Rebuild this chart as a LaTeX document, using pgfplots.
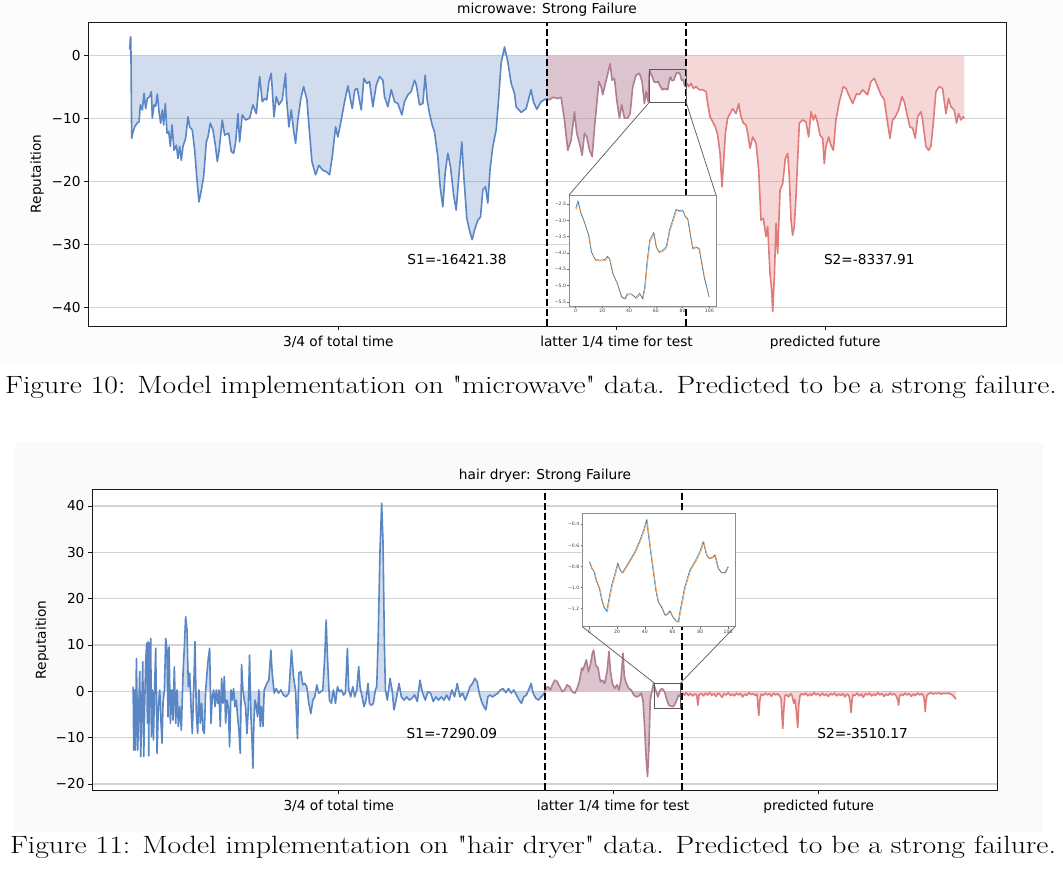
\documentclass[border=0pt]{standalone}
\usepackage{pgfplots}
\pgfplotsset{compat=1.18}
\usepackage{pgfplotstable}
\usepackage{fontspec}
\usepackage{graphicx}
\newfontfamily\djv{DejaVu Sans}
\def\sq{\XeTeXglyph\XeTeXglyphindex "quotedbl"\relax}
\definecolor{bline}{HTML}{5A86C5}
\definecolor{pline}{HTML}{B07D93}
\definecolor{rline}{HTML}{E07B7B}
\definecolor{gridc}{HTML}{D3D3D3}
\definecolor{insblue}{HTML}{1F77B4}
\definecolor{insorange}{HTML}{FF7F0E}
\definecolor{figbg}{HTML}{FAFAFA}
\definecolor{figbgtop}{HTML}{FCFCFC}

\pgfplotstableread{
x y
0 1.0
1 3.0
1.6 2.8
2.8 -13.1
4.7 -12.1
7.1 -11.3
10.5 -10.7
13.4 -10.5
15.3 -7.8
18.2 -8.6
20.5 -6.0
22.9 -8.4
25.3 -6.8
28.7 -6.5
31.1 -5.7
32.5 -9.9
34.9 -7.8
37.3 -8.0
39.7 -6.1
42.1 -8.9
44.5 -10.7
46.9 -8.6
48.8 -11.0
51.2 -7.6
53.6 -12.3
56.0 -12.0
58.4 -14.4
60.8 -11.0
63.7 -15.0
67.0 -14.2
69.4 -16.3
71.8 -14.4
74.2 -16.6
76.6 -14.4
80.4 -13.1
83.8 -9.7
86.2 -11.3
90.0 -11.8
93.4 -15.0
96.7 -19.7
99.6 -23.2
103.0 -21.3
106.3 -19.2
110.1 -13.7
112.5 -12.9
115.9 -10.7
119.7 -11.8
123.1 -14.2
126.0 -16.8
128.3 -15.2
133.1 -10.2
136.5 -12.6
142.2 -12.3
146.0 -15.2
149.4 -15.5
152.3 -13.7
155.6 -9.2
158.0 -13.7
161.8 -9.4
166.6 -10.2
172.4 -9.9
177.2 -7.8
182.0 -9.2
186.8 -3.3
190.6 -7.3
194 -6.8
197 -7.0
200.2 -4.1
203.5 -2.8
207.4 -9.7
210.7 -6.5
214.5 -7.8
219.3 -7.0
224.1 -2.8
225.1 -6.2
228.9 -11.3
232.3 -8.6
235.6 -11.8
238.5 -13.9
241.8 -10.2
245.7 -7.0
250.0 -4.9
254.8 -7.0
258.6 -12.3
262.0 -16.8
267.2 -18.9
272.0 -17.4
277.8 -18.2
282.6 -18.4
287.4 -18.9
291.2 -16.0
296.0 -11.3
299.3 -12.9
304.1 -10.2
308.9 -7.3
313.7 -4.8
319.9 -8.4
323.7 -5.4
327.1 -5.2
332.9 -8.6
336.7 -3.6
341.0 -4.4
344.8 -4.1
349.6 -8.1
354.4 -4.7
359.2 -3.3
364.0 -3.9
366.4 -6.5
371.2 -8.1
376.0 -5.4
380.8 -7.3
385.6 -7.6
391.3 -9.4
395.1 -7.3
399.9 -6.2
404.7 -5.7
409.5 -3.9
412 -4.6
416.7 -7.8
421.5 -7.6
424.8 -3.1
427.7 -7.0
431.1 -9.2
434.9 -11.0
438.2 -12.1
443.0 -16.0
446.4 -20.8
450.2 -24.0
453.5 -18.7
457.4 -15.5
461.2 -17.6
465.5 -21.9
469.4 -24.5
473.2 -19.2
477.5 -13.7
480.4 -19.2
484.7 -25.8
488.5 -27.7
492.4 -29.2
495.7 -27.7
500.5 -26.1
504.4 -25.6
507.7 -21.3
511.5 -20.8
514.9 -23.4
518.2 -17.9
522.1 -14.4
526.9 -11.8
530.7 -6.5
534.0 -1.2
538.9 1.4
543.7 -1.0
548.5 -4.4
553.3 -6.0
555.6 -8.1
562.8 -9.0
570.0 -8.4
577.1 -5.4
580.5 -7.3
585.3 -8.5
591.5 -7.3
597.7 -6.9
600 -6.8
}\topA

\pgfplotstableread{
x y
600 -6.8
603.6 -7.0
608.4 -6.6
615.5 -6.8
620.3 -6.6
625.1 -10.2
629.9 -15.0
634.7 -13.4
639.5 -8.9
642.8 -12.3
646.7 -13.9
650.5 -15.8
653.9 -12.3
657.2 -12.9
661.1 -15.0
664.9 -16.0
668.2 -11.5
671.6 -7.6
674.5 -4.1
677.8 -4.9
680.2 -6.2
684.0 -4.4
687.4 -2.8
690.7 -1.3
693.6 -3.9
697.0 -3.6
700.3 -7.0
704.2 -9.9
707.5 -7.8
711.3 -9.9
716.1 -9.9
719.5 -9.2
723.3 -4.9
728.1 -3.1
732.9 -2.8
736.7 -4.1
740.1 -7.6
742.5 -5.7
745.5 -7.3
747.2 -2.6
747.9 -2.4
749.0 -2.75
750.1 -3.0
751.8 -3.45
753.1 -3.96
754.7 -4.2
756.7 -4.22
758.7 -4.2
759.6 -4.1
760.4 -4.17
761.7 -4.63
763.5 -4.94
765.2 -5.35
766.5 -5.4
767.4 -5.26
769.1 -5.26
770.8 -5.37
772.4 -5.24
773.4 -5.4
774.3 -5.04
775.2 -4.27
776.3 -3.61
777.9 -3.38
778.9 -3.81
780.0 -3.96
781.3 -3.93
782.9 -3.81
784.2 -3.3
785.7 -2.91
786.8 -2.66
788.1 -2.7
789.4 -2.68
790.5 -2.89
791.4 -2.94
793.3 -3.86
794.6 -3.81
795.9 -3.86
797.9 -4.73
800 -5.0
}\topB

\pgfplotstableread{
x y
800 -5.0
801.5 -4.4
803.8 -4.9
807.1 -4.4
810.5 -5.2
814.3 -4.9
819.1 -5.4
823.9 -5.4
828.7 -5.7
831.1 -7.6
834.4 -9.7
838.3 -10.5
842.1 -11.3
845.5 -12.6
848.8 -15.5
851.7 -20.8
854.1 -16.6
856.5 -12.3
859.8 -9.9
863.2 -9.2
867.0 -8.4
871.8 -9.2
875.6 -7.6
879.0 -9.7
882.3 -10.7
886.2 -11.0
888.6 -12.3
891.9 -14.7
895.8 -12.9
900.6 -13.9
904.4 -18.1
907.7 -26.1
911.1 -25.8
914.9 -28.7
917.3 -27.1
920.7 -34.6
923.1 -37.2
924.5 -40.6
926.9 -35.1
929.3 -26.6
931.7 -31.4
935.1 -21.3
938.9 -20.3
942.7 -16.3
946.1 -15.5
948.4 -19.2
950.9 -26.1
953.2 -28.5
955.6 -27.1
958.0 -22.4
960.4 -16.6
962.8 -10.7
967.6 -10.2
972.4 -10.5
976.2 -12.9
979.6 -8.9
983.0 -10.2
985.8 -9.4
989.2 -10.7
992.5 -12.6
996.4 -13.1
998.7 -17.1
1001.1 -14.4
1005.0 -12.9
1008.3 -14.2
1011.7 -15.0
1015.5 -10.2
1020.3 -7.3
1026.1 -4.9
1029.9 -5.2
1033.7 -6.2
1039.5 -7.6
1045.2 -6.0
1049.0 -6.2
1053.8 -5.4
1061.0 -6.2
1065.8 -4.1
1070.6 -3.6
1075.4 -4.9
1080.2 -6.2
1085.0 -7.0
1089.8 -10.7
1093.1 -13.1
1097.0 -10.2
1100.8 -9.7
1105.6 -8.6
1110.4 -6.5
1113.7 -7.3
1118.5 -9.7
1121.8 -11.3
1125.7 -11.5
1129.5 -13.1
1132.9 -9.7
1137.7 -8.9
1140.1 -10.2
1144.8 -14.4
1148.7 -15.0
1152.0 -14.4
1155.4 -10.7
1159.2 -5.7
1164.0 -4.9
1168.8 -5.2
1173.6 -9.2
1177.4 -6.8
1180.8 -8.1
1185.6 -8.6
1188.9 -10.7
1191.8 -9.2
1195.2 -10.2
1198.5 -9.7
1200 -9.9
}\topC

\pgfplotstableread{
x y
0 1.0
0.9 -12.7
2.4 0.3
3.3 -12.7
4.8 7.1
6.7 -12.7
8.2 -4.0
9.6 4.3
11.1 -14.1
12.6 -3.3
14.0 6.4
15.5 -14.1
16.9 -2.6
18.4 6.8
19.8 10.4
20.8 -6.9
21.8 10.7
22.8 -13.9
23.7 10.4
24.7 -3.3
25.7 11.4
26.6 -9.8
28.1 0.3
29.6 -10.5
31.0 -1.2
32.9 9.3
34.9 -13.4
36.8 -3.3
38.8 0.3
40.7 -6.9
42.2 -11.2
43.6 -2.6
45.6 0.3
47.5 11.4
49.4 8.9
50.9 -5.5
52.4 9.6
54.3 -6.9
56.3 0.3
58.2 -6.2
60.1 5.3
62.1 -6.9
64.0 0.3
65.9 -7.6
67.9 -3.3
70.3 -8.4
72.8 3.9
74.7 9.6
76.6 16.1
78.6 13.2
80.5 1.0
82.5 3.9
84.4 -3.3
86.3 -9.1
88.3 0.3
90.2 10.7
92.2 -4.8
94.1 -9.1
96.0 0.3
98.0 -6.9
99.9 -2.6
101.9 -8.4
103.8 -9.1
105.8 0.3
107.7 3.9
109.6 7.1
111.6 9.3
113.5 -6.9
115.5 -1.2
117.4 0.3
119.4 -3.3
121.3 0.3
123.2 -2.6
125.2 0.3
127.1 -7.6
129.1 2.8
131.0 -2.6
133.0 3.2
134.9 -6.9
136.8 -1.9
138.8 -3.3
140.7 -12.0
142.7 0.3
144.6 -1.9
146.5 0.6
148.5 -3.3
150.4 -1.9
152.4 -5.5
154.3 -8.4
156.2 -13.4
158.2 5.8
160.1 0.3
162.1 -1.9
164.0 -3.3
166.0 -9.1
167.9 -4.0
169.8 7.8
171.8 -5.5
173.2 -9.8
174.7 -16.6
176.1 -6.9
177.6 -1.9
179.5 -3.0
181.5 -5.5
183.4 0.3
185.4 -7.6
187.3 -3.3
189.3 -7.6
191.2 0.3
193.1 1.0
195.1 1.7
198.0 2.4
200.9 8.9
202.8 3.9
205.8 -0.4
208.7 0.6
212.1 -0.4
215.5 0.3
219.3 -0.8
223.2 -1.2
227.1 -0.4
231.0 8.9
233.9 3.2
236.8 0.3
239.7 -10.2
241.7 3.9
244.6 4.3
247.5 1.4
250.4 1.7
253.3 1.0
256.2 -2.6
259.2 -4.8
262.1 -1.9
265.0 -1.2
267.9 1.4
270.8 -0.4
273.7 -0.1
276.6 0.3
279.5 7.5
281.5 15.4
283.4 7.5
286.3 -1.9
289.2 -2.6
292.1 0.3
295.1 -2.6
298.0 1.0
300.9 -0.1
303.8 0.3
306.7 -0.8
309.6 -0.4
312.5 9.3
314.5 0.3
317.4 -1.2
320.3 1.0
323.2 -1.2
326.1 0.3
329.0 5.3
331.0 1.0
333.9 -1.2
336.8 -3.3
339.7 -1.9
342.6 1.7
344.6 -2.6
347.5 -3.0
350.4 -2.6
353.3 0.3
355.3 1.0
357.5 12.0
360.0 30.0
362.5 40.6
364.5 32.0
366.5 10.0
368.0 0.3
370.8 -1.9
374.7 2.8
377.6 0.3
380.5 -4.0
384.4 -1.2
387.8 1.7
391.2 -1.2
395.1 -1.9
399.0 -1.2
402.8 -1.9
406.7 -1.5
410.6 -0.8
414.5 -2.2
418.4 2.4
422.2 -0.4
426.1 -1.9
430.0 -0.1
433.9 -0.4
437.8 -2.2
441.7 -1.2
445.5 -1.9
449.4 -1.2
453.3 -1.9
457.2 -0.8
461.1 -1.9
465.0 0.3
468.8 -1.2
472.7 1.7
476.6 -1.2
480.5 -0.4
484.4 -1.9
488.3 -0.4
491.2 1.0
495.0 1.7
498.4 2.8
501.8 2.1
504.8 -0.4
508.2 -2.2
511.6 -3.3
514.5 -4.0
517.4 -1.2
520.3 -0.8
524.2 -1.2
528.1 -0.8
532.0 -0.4
535.8 0.3
539.7 0.6
543.6 -0.3
547.5 0.6
551.4 -0.4
555.2 0.3
559.1 -0.8
563.0 -1.9
566.4 -2.6
569.8 -1.2
573.7 -0.8
577.6 0.6
580.5 1.7
583.4 -0.4
587.3 -1.5
591.2 -1.9
595.0 -1.2
597.9 -0.8
600 -0.4
}\botA

\pgfplotstableread{
x y
600 -0.4
601.8 0.6
605.2 1.0
608.6 0.3
611.5 1.4
614.9 2.4
618.3 2.1
622.2 1.0
626.1 -0.1
629.5 0.4
632.9 1.4
636.8 1.0
640.7 -0.1
644.5 -0.4
648.4 1.0
651.3 2.4
654.3 5.0
656.2 4.6
658.6 5.7
661.1 6.8
664.0 4.2
666.9 5.7
669.8 8.2
671.7 8.9
674.7 5.7
678.1 5.0
681.5 2.1
684.4 2.4
687.8 1.7
691.2 4.2
694.1 8.6
696.0 4.6
699.0 1.7
702.3 0.6
705.7 1.4
708.6 0.3
711.5 2.4
714.5 8.2
716.4 3.2
719.3 1.7
723.2 0.6
726.6 0.3
730.0 -0.8
733.9 -1.2
737.7 -1.0
741.1 -0.4
743.6 -1.9
746.0 -7.6
748.4 -14.8
750.3 -18.4
752.3 -12.0
754.2 -1.9
756.2 -0.4
759.1 1.7
762.0 0.3
765.4 -1.2
768.8 0.3
771.7 0.6
775.1 -0.1
778.5 -1.9
781.4 -3.0
784.8 -3.2
788.2 -3.3
792.1 -2.2
795.5 -0.8
798.4 -1.2
800 -1.2
}\botB

\pgfplotstableread{
x y
800 -1.2
801.5 -0.4
804 -0.8
807 -0.3
810 -0.9
813 -0.5
816 -1.0
819 -0.6
822 -0.8
823.7 -3.0
825.5 -0.7
829 -0.5
832 -1.0
835 -0.4
838 -0.8
841 -0.3
844 -0.9
847 -0.5
850 -1.1
853 -0.4
856 -0.7
859 -1.3
862 -0.5
865 -0.8
868 -0.3
871 -0.9
874 -0.6
877 -1.0
880 -0.4
883 -0.8
886 -0.5
889 -1.2
892 -0.6
895 -0.9
898 -0.3
901 -0.7
904 -0.5
907 -0.9
910 -0.6
911.5 -3.5
912.6 -5.2
914 -2.0
916 -0.6
919 -0.9
922 -0.4
925 -0.8
928 -0.5
931 -1.1
934 -0.4
937 -0.8
940 -0.5
943 -1.0
945 -1.5
946.5 -5.5
947.6 -8.0
949 -4.0
950.5 -1.0
953 -0.7
956 -1.2
959 -0.5
961 -0.9
963.6 -2.6
965.5 -1.8
967.5 -4.5
969.4 -7.8
970.8 -3.0
972.5 -1.0
975 -0.5
978 -0.8
981 -0.4
984 -1.0
987 -0.6
990 -0.9
993 -0.3
996 -0.8
999 -0.5
1002 -1.0
1005 -0.4
1008 -0.9
1011 -0.6
1014 -1.1
1017 -0.5
1020 -0.8
1023 -0.4
1026 -1.0
1029 -0.6
1032 -0.9
1035 -0.5
1038 -1.2
1041 -0.6
1044 -0.9
1046 -2.5
1047.2 -4.6
1048.5 -2.0
1050 -0.7
1053 -0.9
1056 -0.4
1059 -1.0
1062 -0.6
1065 -1.3
1068 -0.5
1071 -0.8
1074 -0.4
1077 -1.0
1080 -0.6
1083 -0.9
1086 -0.3
1089 -0.8
1092 -0.5
1095 -1.1
1098 -0.6
1101 -0.9
1104 -0.4
1107 -0.8
1110 -0.5
1113 -1.0
1115.5 -2.0
1116.5 -3.0
1117.8 -1.0
1120 -0.6
1123 -0.9
1126 -0.4
1129 -0.8
1132 -0.5
1135 -1.1
1138 -0.6
1141 -0.9
1144 -0.4
1147 -0.8
1150 -0.5
1153 -1.0
1154.5 -2.5
1155.3 -4.4
1156.5 -2.0
1158 -0.8
1161 -0.5
1164 -0.3
1167 -0.6
1170 -0.4
1173 -0.5
1176 -0.4
1179 -0.6
1182 -0.4
1185 -0.5
1188 -0.4
1191 -0.5
1194 -0.7
1196 -1.0
1198 -1.3
1200 -1.7
}\botC

\pgfplotstableread{
x y
0 -2.63
1.7 -2.40
3.5 -2.74
5.9 -2.99
9.6 -3.45
11.6 -3.96
14.6 -4.20
18.3 -4.22
22.0 -4.20
23.7 -4.10
25.2 -4.17
27.7 -4.63
31.1 -4.94
34.3 -5.35
36.8 -5.40
38.5 -5.26
41.7 -5.26
44.9 -5.37
47.9 -5.24
49.9 -5.40
51.6 -5.04
53.3 -4.27
55.3 -3.61
58.3 -3.38
60.2 -3.81
62.2 -3.96
64.7 -3.93
67.7 -3.81
70.1 -3.30
73.1 -2.91
75.0 -2.66
77.5 -2.70
80.0 -2.68
82.0 -2.89
83.7 -2.94
87.4 -3.86
89.9 -3.81
92.3 -3.86
96.0 -4.73
99.8 -5.35
}\insTa

\pgfplotstableread{
x y
0.5 -2.66
2.2 -2.43
4.0 -2.77
6.4 -3.02
10.1 -3.48
12.1 -3.99
15.1 -4.23
18.8 -4.25
22.5 -4.23
24.2 -4.13
25.7 -4.20
28.2 -4.66
31.6 -4.97
34.8 -5.38
37.3 -5.42
39.0 -5.29
42.2 -5.29
45.4 -5.40
48.4 -5.27
50.4 -5.42
52.1 -5.07
53.8 -4.30
55.8 -3.64
58.8 -3.41
60.7 -3.84
62.7 -3.99
65.2 -3.96
68.2 -3.84
70.6 -3.33
73.6 -2.94
75.5 -2.69
78.0 -2.73
80.5 -2.71
82.5 -2.92
84.2 -2.97
87.9 -3.89
90.4 -3.84
92.8 -3.89
96.5 -4.76
100.0 -5.36
}\insTb

\pgfplotstableread{
x y
0 -0.754
1.7 -0.818
3.4 -0.849
4.8 -0.928
7.2 -1.008
8.9 -1.118
10.6 -1.188
12.5 -1.223
14.4 -1.087
16.1 -0.976
18.5 -0.865
20.4 -0.770
22.1 -0.834
23.7 -0.859
25.7 -0.818
29.3 -0.739
32.9 -0.659
36.5 -0.549
39.3 -0.447
41.2 -0.359
43.6 -0.612
45.9 -0.834
47.8 -1.023
49.5 -1.134
51.9 -1.182
54.4 -1.261
56.1 -1.251
58.0 -1.220
60.0 -1.277
62.4 -1.315
64.0 -1.324
65.9 -1.182
68.8 -0.992
72.4 -0.834
76.0 -0.754
79.6 -0.659
82.0 -0.565
84.4 -0.691
86.3 -0.723
88.7 -0.713
90.4 -0.691
92.8 -0.818
95.2 -0.859
97.6 -0.859
100 -0.802
}\insBa

\pgfplotstableread{
x y
0.6 -0.758
2.3 -0.822
4.0 -0.853
5.4 -0.932
7.8 -1.012
9.5 -1.122
11.2 -1.192
13.1 -1.227
15.0 -1.091
16.7 -0.980
19.1 -0.869
21.0 -0.774
22.7 -0.838
24.3 -0.863
26.3 -0.822
29.9 -0.743
33.5 -0.663
37.1 -0.553
39.9 -0.451
41.8 -0.363
44.2 -0.616
46.5 -0.838
48.4 -1.027
50.1 -1.138
52.5 -1.186
55.0 -1.265
56.7 -1.255
58.6 -1.224
60.6 -1.281
63.0 -1.319
64.6 -1.328
66.5 -1.186
69.4 -0.996
73.0 -0.838
76.6 -0.758
80.2 -0.663
82.6 -0.569
85.0 -0.695
86.9 -0.727
89.3 -0.717
91.0 -0.695
93.4 -0.822
95.8 -0.863
98.2 -0.863
100.4 -0.806
}\insBb

\pgfplotsset{
  mainax/.style={
    scale only axis, anchor=south west,
    axis background/.style={fill=white},
    axis line style={black!90, line width=0.9pt},
    tick align=outside, xtick pos=bottom, ytick pos=left,
    major tick length=4pt,
    tick style={black!90, line width=0.9pt},
    ymajorgrids, grid style={gridc, line width=1.3pt},
    xmin=-60, xmax=1260,
    xtick={300,700,1000},
    xticklabels={3/4 of total time, latter 1/4 time for test, predicted future},
    ticklabel style={font=\djv\fontsize{13.7}{16}\selectfont},
    xticklabel style={yshift=-3pt},
    clip=true,
  },
  insax/.style={
    scale only axis, anchor=south west,
    axis background/.style={fill=white},
    axis line style={black!45, line width=0.6pt},
    tick align=outside, xtick pos=bottom, ytick pos=left,
    major tick length=1.8pt,
    tick style={black!60, line width=0.4pt},
    xmin=-5, xmax=105,
    xtick={0,20,40,60,80,100},
    xticklabels={0,20,40,60,80,100},
    ticklabel style={font=\djv\fontsize{4.6}{5}\selectfont, text=black!75, inner sep=1pt},
  },
}

\begin{document}
\begin{tikzpicture}[x=1pt,y=1pt]
\path[use as bounding box] (0,0) rectangle (1063,-883);
\fill[figbgtop] (0,0) rectangle (1063,-364);
\fill[figbg] (15,-443) rectangle (1043,-832);

% ---------------- top chart ----------------
\begin{axis}[mainax, name=topax, at={(88pt,-326pt)}, width=918pt, height=303.3pt,
  ymin=-42.9, ymax=5.24,
  ytick={-40,-30,-20,-10,0}, yticklabels={−40,−30,−20,−10,0}]
\addplot[draw=none, fill=bline, fill opacity=0.28] table {\topA} \closedcycle;
\addplot[draw=none, fill=pline, fill opacity=0.45] table {\topB} \closedcycle;
\addplot[draw=none, fill=rline, fill opacity=0.3] table {\topC} \closedcycle;
\addplot[bline, line width=1.6pt, line join=round] table {\topA};
\addplot[pline, line width=1.6pt, line join=round] table {\topB};
\addplot[rline, line width=1.6pt, line join=round] table {\topC};
\draw[black, line width=2pt, dash pattern=on 7pt off 3pt] (axis cs:600,-42.9) -- (axis cs:600,5.24);
\draw[black, line width=2pt, dash pattern=on 7pt off 3pt] (axis cs:800,-42.9) -- (axis cs:800,5.24);
\draw[black!65, line width=0.8pt] (axis cs:747,-2.17) rectangle (axis cs:800,-7.4);
\coordinate (tz1) at (axis cs:747,-7.4);
\coordinate (tz2) at (axis cs:800,-7.4);
\node[font=\djv\fontsize{13.7}{16}\selectfont] at (axis cs:470.6,-32.3) {S1=-16421.38};
\node[font=\djv\fontsize{13.7}{16}\selectfont] at (axis cs:1063.4,-32.3) {S2=-8337.91};
\end{axis}

\begin{axis}[insax, name=ins1, at={(569pt,-306pt)}, width=147pt, height=111pt,
  ymin=-5.63, ymax=-2.22,
  ytick={-5.5,-5,-4.5,-4,-3.5,-3,-2.5},
  yticklabels={−5.5,−5.0,−4.5,−4.0,−3.5,−3.0,−2.5}]
\addplot[insorange, line width=0.5pt] table {\insTb};
\addplot[insblue, line width=0.5pt] table {\insTa};
\end{axis}
\draw[black!65, line width=0.7pt] (tz1) -- (ins1.north west);
\draw[black!65, line width=0.7pt] (tz2) -- (ins1.north east);

\node[font=\djv\fontsize{13.7}{16}\selectfont] at (547,-10) {microwave: Strong Failure};
\node[font=\djv\fontsize{13.7}{16}\selectfont, rotate=90] at (37,-174) {Reputaition};

% ---------------- bottom chart ----------------
\begin{axis}[mainax, name=botax, at={(92pt,-790pt)}, width=905pt, height=300.7pt,
  ymin=-21.3, ymax=43.6,
  ytick={-20,-10,0,10,20,30,40}, yticklabels={−20,−10,0,10,20,30,40}]
\addplot[draw=none, fill=bline, fill opacity=0.28] table {\botA} \closedcycle;
\addplot[draw=none, fill=pline, fill opacity=0.45] table {\botB} \closedcycle;
\addplot[draw=none, fill=rline, fill opacity=0.3] table {\botC} \closedcycle;
\addplot[bline, line width=1.6pt, line join=round] table {\botA};
\addplot[pline, line width=1.6pt, line join=round] table {\botB};
\addplot[rline, line width=1.6pt, line join=round] table {\botC};
\draw[black, line width=2pt, dash pattern=on 7pt off 3pt] (axis cs:600,-21.3) -- (axis cs:600,43.6);
\draw[black, line width=2pt, dash pattern=on 7pt off 3pt] (axis cs:800,-21.3) -- (axis cs:800,43.6);
\draw[black!65, line width=0.8pt] (axis cs:760.6,1.73) rectangle (axis cs:798,-3.67);
\coordinate (bz1) at (axis cs:760.6,1.73);
\coordinate (bz2) at (axis cs:798,1.73);
\node[font=\djv\fontsize{13.7}{16}\selectfont] at (axis cs:465,-9.2) {S1=-7290.09};
\node[font=\djv\fontsize{13.7}{16}\selectfont] at (axis cs:1064,-9.1) {S2=-3510.17};
\end{axis}

\begin{axis}[insax, name=ins2, at={(582.3pt,-626.7pt)}, width=152.7pt, height=113.4pt,
  ymin=-1.371, ymax=-0.296,
  ytick={-1.2,-1.0,-0.8,-0.6,-0.4},
  yticklabels={−1.2,−1.0,−0.8,−0.6,−0.4}]
\addplot[insorange, line width=0.5pt] table {\insBb};
\addplot[insblue, line width=0.5pt] table {\insBa};
\end{axis}
\draw[black!65, line width=0.7pt] (bz1) -- (ins2.south west);
\draw[black!65, line width=0.7pt] (bz2) -- (ins2.south east);

\node[font=\djv\fontsize{13.7}{16}\selectfont] at (545,-476) {hair dryer: Strong Failure};
\node[font=\djv\fontsize{13.7}{16}\selectfont, rotate=90] at (42,-640) {Reputaition};

% ---------------- captions ----------------
\node[anchor=base, inner sep=0pt] at (531,-393.3) {\scalebox{1.188}[1]{\fontsize{25}{30}\selectfont Figure 10: Model implementation on \sq microwave\sq{} data. Predicted to be a strong failure.}};
\node[anchor=base, inner sep=0pt] at (533,-853.3) {\scalebox{1.188}[1]{\fontsize{25}{30}\selectfont Figure 11: Model implementation on \sq hair dryer\sq{} data. Predicted to be a strong failure.}};
\end{tikzpicture}
\end{document}
